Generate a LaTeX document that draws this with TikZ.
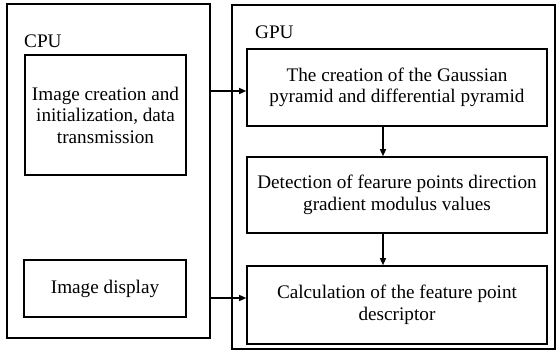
\documentclass[tikz,border=0pt]{standalone}
\usepackage{fontspec}
\setmainfont{Liberation Serif}
\usetikzlibrary{arrows.meta}
\begin{document}
\begin{tikzpicture}[x=1pt,y=-1pt,
  frame/.style={draw,line width=1.6pt},
  proc/.style={draw,line width=1.6pt,align=center,font=\fontsize{19.2}{21.5}\selectfont},
  flow/.style={line width=1.3pt,-{Triangle[length=7pt,width=6pt]}},
  lbl/.style={anchor=base west,inner sep=0pt,font=\fontsize{19.2}{21.5}\selectfont}]
\useasboundingbox (0,0) rectangle (557,358);
% CPU side
\draw[frame] (7,4) rectangle (210,338);
\node[lbl] (cpu) at (24,48) {CPU};
\node[proc,minimum width=161pt,minimum height=120pt] (init) at (105.5,115) {Image creation and\\initialization, data\\transmission};
\node[proc,minimum width=162pt,minimum height=57pt] (disp) at (105,288.5) {Image display};
% GPU side
\draw[frame] (232,5) rectangle (555,349);
\node[lbl] (gpu) at (255,39) {GPU};
\node[proc,minimum width=300pt,minimum height=77pt] (pyr) at (397,87.5) {The creation of the Gaussian\\pyramid and differential pyramid};
\node[proc,minimum width=300pt,minimum height=76pt] (det) at (397,195) {Detection of fearure points direction\\gradient modulus values};
\node[proc,minimum width=300pt,minimum height=78pt] (desc) at (397,305) {Calculation of the feature point\\descriptor};
% connectors
\coordinate (a1) at (210,91);
\coordinate (a2) at (210,298);
\draw[flow] (a1) -- (a1 -| pyr.west);
\draw[flow] (a2) -- (a2 -| desc.west);
\draw[flow] (pyr.south -| 383,0) -- (det.north -| 383,0);
\draw[flow] (det.south -| 383,0) -- (desc.north -| 383,0);
\end{tikzpicture}
\end{document}
